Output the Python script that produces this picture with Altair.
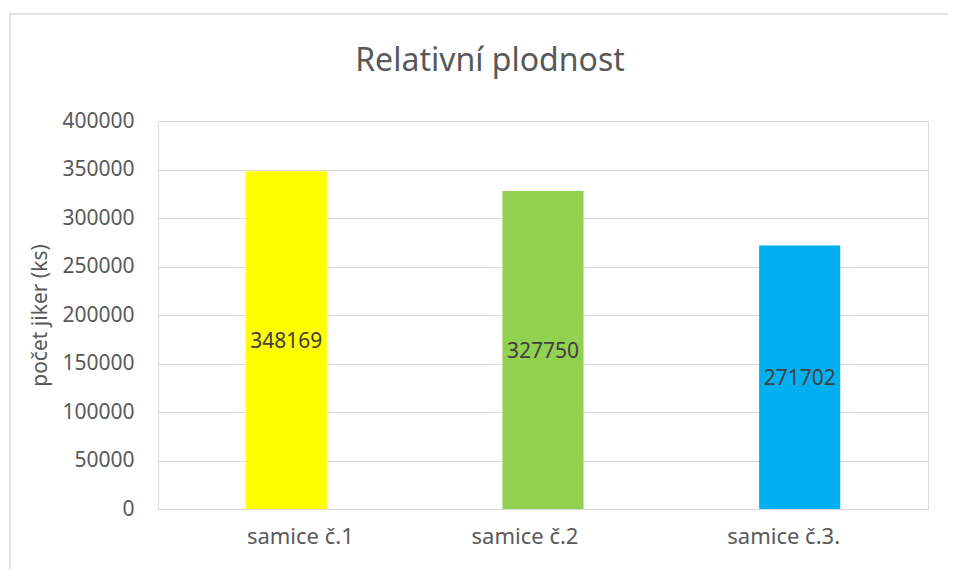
import altair as alt
import pandas as pd

categories = ["samice č.1", "samice č.2", "samice č.3."]
values = [348169, 327750, 271702]
bar_colors = ["#FFFF00", "#92D050", "#00B0F0"]
y_ticks = [0, 50000, 100000, 150000, 200000, 250000, 300000, 350000, 400000]

df = pd.DataFrame({"category": categories, "value": values})

FONT = "Noto Sans"
GRID = "#d9d9d9"
TXT = "#595959"

x_enc = alt.X(
    "category:N",
    sort=categories,
    scale=alt.Scale(paddingInner=0.684, paddingOuter=0.342),
    axis=alt.Axis(
        title=None,
        labelAngle=0,
        labelFont=FONT,
        labelFontSize=22,
        labelColor=TXT,
        labelPadding=17,
        ticks=False,
        domainColor=GRID,
        domainWidth=1,
        grid=False,
        labelOffset={"expr": "datum.index == 0 ? 14 : (datum.index == 1 ? -16 : -18)"},
    ),
)

y_enc = alt.Y(
    "value:Q",
    scale=alt.Scale(domain=[0, 400000]),
    axis=alt.Axis(
        title="počet jiker (ks)",
        values=y_ticks,
        format="d",
        labelFont=FONT,
        labelFontSize=21,
        labelColor=TXT,
        labelPadding=24,
        ticks=False,
        domain=False,
        gridColor=GRID,
        gridWidth=1,
        titleFont=FONT,
        titleFontSize=21,
        titleFontWeight="normal",
        titleColor=TXT,
        titleX=-118,
        titleY=194,
        titleAngle=270,
        titleAlign="center",
        titleBaseline="middle",
    ),
)

border = alt.Chart(alt.Data(values=[{}])).mark_rect(
    fill=None, stroke=GRID, strokeWidth=1.5
).encode(
    x=alt.value(-148), x2=alt.value(820), y=alt.value(-107), y2=alt.value(480)
)

bars = alt.Chart(df).mark_bar().encode(
    x=x_enc,
    y=y_enc,
    color=alt.Color(
        "category:N",
        scale=alt.Scale(domain=categories, range=bar_colors),
        legend=None,
    ),
)

labels = alt.Chart(df).transform_calculate(half="datum.value / 2").mark_text(
    font=FONT, fontSize=21, color="#404040", baseline="middle", align="center", dy=2
).encode(
    x=alt.X("category:N", sort=categories),
    y=alt.Y("half:Q"),
    text=alt.Text("value:Q", format="d"),
)

chart = alt.layer(border, bars, labels).properties(
    width=770,
    height=388,
    autosize=alt.AutoSizeParams(type="none"),
    padding={"left": 150, "top": 113, "right": 20, "bottom": 60},
    title=alt.TitleParams(
        text="Relativní plodnost",
        font=FONT,
        fontSize=32,
        fontWeight="normal",
        color=TXT,
        anchor="middle",
        frame="group",
        dx=-53,
        baseline="alphabetic",
        offset=-90,
    ),
).configure_view(stroke=None).configure(background="white")

chart.save("out.html", embed_options={"renderer": "svg", "actions": False})
